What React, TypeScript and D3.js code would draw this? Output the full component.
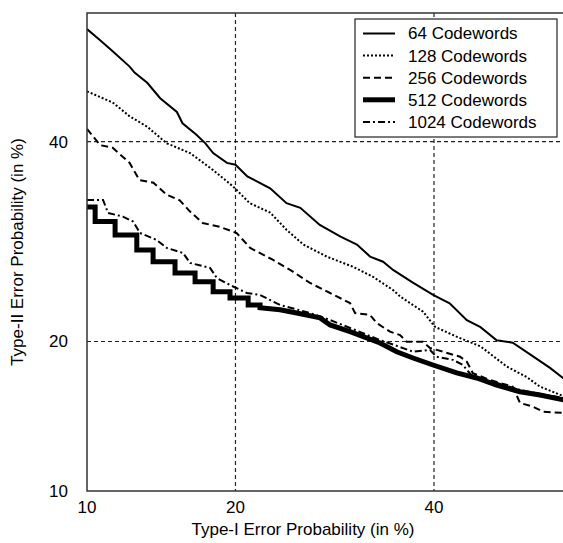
import React from "react";
import * as d3 from "d3";

// Values (percent, Type-I vs Type-II)
const xTicks = [10, 20, 40];
const yTicks = [10, 20, 40];

const seriesNames = ["64 Codewords", "128 Codewords", "256 Codewords", "512 Codewords", "1024 Codewords"];

const cw64: [number, number][] = [[10,53.1],[10.7,51.8],[11.4,50.5],[12.4,48.7],[12.7,48.0],[13.5,46.8],[14.35,45.0],[15.5,43.4],[15.9,42.1],[16.9,40.8],[17.6,39.8],[18.2,38.7],[19.3,37.6],[20,37.4],[21,36.1],[23,34.8],[24.5,33.2],[25.8,32.7],[27.7,30.9],[29.8,29.7],[31.5,28.9],[32.9,27.7],[34.3,27.2],[35.4,26.4],[37.6,25.2],[39.9,24.05],[41.8,23.3],[43.8,21.8],[45.4,21.2],[47.3,20.1],[49.2,19.9],[51.6,18.8],[53.6,17.9],[55.2,17.1]];
const cw128: [number, number][] = [[10,45.8],[11.4,44.5],[12.4,42.9],[13.5,41.7],[14.8,39.8],[16.45,38.7],[18.2,36.8],[19.8,35.0],[21.2,33.2],[23,32.2],[24.5,30.4],[26.1,28.9],[28.4,27.7],[31.1,26.7],[33.2,25.75],[35.4,24.5],[36.2,23.9],[37.3,23.3],[38.75,22.55],[40.1,21.24],[42.6,20.4],[45.4,19.6],[48.5,18.0],[50.85,17.2],[52.4,16.5],[55.2,15.8]];
const cw256: [number, number][] = [[10,41.45],[10.7,39.6],[11.4,39.3],[12.4,37.6],[13.0,35.7],[13.9,35.4],[14.8,34.1],[15.7,33.5],[16.45,32.3],[17.4,31.1],[18.75,30.7],[20.1,30.07],[21.24,28.56],[23.27,27.37],[25.1,26.23],[26.75,25.16],[28.73,24.23],[30.78,23.32],[31.3,22.43],[32.9,22.26],[33.6,21.56],[35.06,20.82],[36.17,20.54],[36.9,19.98],[38.75,19.98],[39.55,19.47],[41.03,19.17],[43.0,18.77],[43.8,18.38],[44.5,17.5],[46.5,16.98],[49.2,16.49],[50.06,15.33],[51.6,15.07],[52.78,14.73],[55.2,14.64]];
// 512: coarse staircase at low Type-I values, then a finely jagged descent
const cw512Steps: [number, number][] = [[10,32.8],[10.43,31.25],[11.54,29.87],[12.84,28.36],[13.88,27.2],[15.37,26.1],[16.82,25.28],[18.2,24.35],[19.55,23.77],[21.07,23.14],[22.1,22.9]];
const cw512Tail: [number, number][] = [[22.1,22.9],[23.9,22.72],[25.46,22.43],[27.73,22.0],[28.73,21.39],[30.78,20.82],[33.97,19.88],[35.8,19.17],[37.62,18.67],[39.89,18.12],[42.62,17.51],[44.96,17.13],[47.3,16.61],[50.06,16.12],[52.42,15.89],[55.2,15.54]];
const cw1024: [number, number][] = [[10,33.54],[10.86,33.54],[11.14,32.16],[12.0,31.77],[12.62,31.25],[13.04,30.07],[14.12,29.36],[14.8,28.56],[15.94,28.06],[16.45,27.08],[17.96,26.59],[18.49,25.63],[19.55,24.97],[20.96,24.23],[22.1,24.05],[23.9,23.14],[26.75,22.43],[28.73,21.82],[30.78,21.13],[33.97,20.12],[36.17,19.55],[37.62,19.17],[39.55,19.31],[40.3,18.77],[42.19,18.52],[43.36,18.12],[43.8,17.74],[44.53,17.23],[47.3,16.76],[50.06,16.25],[52.42,15.96],[55.2,15.68]];

// inverse normal CDF (Acklam)
function probit(p: number): number {
  const a = [-3.969683028665376e1, 2.209460984245205e2, -2.759285104469687e2, 1.38357751867269e2, -3.066479806614716e1, 2.506628277459239];
  const b = [-5.447609879822406e1, 1.615858368580409e2, -1.556989798598866e2, 6.680131188771972e1, -1.328068155288572e1];
  const c = [-7.784894002430293e-3, -3.223964580411365e-1, -2.400758277161838, -2.549732539343734, 4.374664141464968, 2.938163982698783];
  const d = [7.784695709041462e-3, 3.224671290700398e-1, 2.445134137142996, 3.754408661907416];
  const plow = 0.02425;
  if (p < plow) {
    const q = Math.sqrt(-2 * Math.log(p));
    return (((((c[0] * q + c[1]) * q + c[2]) * q + c[3]) * q + c[4]) * q + c[5]) / ((((d[0] * q + d[1]) * q + d[2]) * q + d[3]) * q + 1);
  }
  if (p <= 1 - plow) {
    const q = p - 0.5, r = q * q;
    return ((((((a[0] * r + a[1]) * r + a[2]) * r + a[3]) * r + a[4]) * r + a[5]) * q) / (((((b[0] * r + b[1]) * r + b[2]) * r + b[3]) * r + b[4]) * r + 1);
  }
  const q = Math.sqrt(-2 * Math.log(1 - p));
  return -(((((c[0] * q + c[1]) * q + c[2]) * q + c[3]) * q + c[4]) * q + c[5]) / ((((d[0] * q + d[1]) * q + d[2]) * q + d[3]) * q + 1);
}

const W = 563, H = 543;
const left = 87, top = 13, bottom = 491, right = 600;

export default function App() {
  const xs = d3.scaleLinear().domain([probit(0.1), probit(0.4)]).range([87, 434]);
  const ys = d3.scaleLinear().domain([probit(0.1), probit(0.4)]).range([491, 141.6]);
  const X = (v: number) => xs(probit(v / 100));
  const Y = (v: number) => ys(probit(v / 100));

  const lineLin = d3.line<[number, number]>().x(d => X(d[0])).y(d => Y(d[1]));
  const lineStep = d3.line<[number, number]>().x(d => X(d[0])).y(d => Y(d[1])).curve(d3.curveStepAfter);

  const path512 = (lineStep(cw512Steps) || "") + " " + (lineLin(cw512Tail) || "").replace(/^M/, "L");

  const styles = [
    { d: lineLin(cw64) || "", w: 2, dash: "none" },
    { d: lineLin(cw128) || "", w: 2, dash: "2,2" },
    { d: lineLin(cw256) || "", w: 2, dash: "7,4" },
    { d: path512, w: 5, dash: "none" },
    { d: lineLin(cw1024) || "", w: 2, dash: "7,3,2,3" },
  ];

  const font = "'Liberation Sans', Arial, sans-serif";
  const fs = 17;
  const legX = 355, legY = 19, legW = 202, legH = 118;

  return (
    <svg width={W} height={H} style={{ position: "absolute", left: 0, top: 0, display: "block", background: "#fff" }}>
      <defs>
        <clipPath id="plotclip">
          <rect x={left} y={top} width={right - left} height={bottom - top} />
        </clipPath>
      </defs>
      <rect x={0} y={0} width={W} height={H} fill="#fff" />
      {/* grid */}
      {xTicks.filter(t => t !== 10).map(t => (
        <line key={"gx" + t} x1={X(t)} x2={X(t)} y1={top} y2={bottom} stroke="#222" strokeWidth={1.2} strokeDasharray="4,3" />
      ))}
      {yTicks.filter(t => t !== 10).map(t => (
        <line key={"gy" + t} x1={left} x2={right} y1={Y(t)} y2={Y(t)} stroke="#222" strokeWidth={1.2} strokeDasharray="4,3" />
      ))}
      {/* curves */}
      <g clipPath="url(#plotclip)">
        {styles.map((s, i) => (
          <path key={i} d={s.d} fill="none" stroke="#000" strokeWidth={s.w}
            strokeDasharray={s.dash} strokeLinejoin="miter" strokeLinecap="butt" />
        ))}
      </g>
      {/* frame */}
      <rect x={left} y={top} width={right - left} height={bottom - top} fill="none" stroke="#333" strokeWidth={1.5} />
      {/* tick labels */}
      {xTicks.map(t => (
        <text key={"tx" + t} x={X(t)} y={513} textAnchor="middle" fontFamily={font} fontSize={fs} fill="#000">{t}</text>
      ))}
      {yTicks.map(t => (
        <text key={"ty" + t} x={68} y={Y(t)} dy="0.35em" textAnchor="end" fontFamily={font} fontSize={fs} fill="#000">{t}</text>
      ))}
      {/* axis labels */}
      <text x={303} y={535} textAnchor="middle" fontFamily={font} fontSize={fs} fill="#000">Type-I Error Probability (in %)</text>
      <text transform={`translate(23,${(top + bottom) / 2}) rotate(-90)`} textAnchor="middle" fontFamily={font} fontSize={fs} fill="#000">Type-II Error Probability (in %)</text>
      {/* legend */}
      <rect x={legX} y={legY} width={legW} height={legH} fill="#fff" stroke="#222" strokeWidth={1.2} />
      {seriesNames.map((n, i) => {
        const yy = legY + 14.5 + i * 22.1;
        const s = styles[i];
        return (
          <g key={n}>
            <line x1={363} x2={395} y1={yy} y2={yy} stroke="#000" strokeWidth={s.w} strokeDasharray={s.dash} />
            <text x={408} y={yy} dy="0.35em" fontFamily={font} fontSize={fs} fill="#000">{n}</text>
          </g>
        );
      })}
    </svg>
  );
}
